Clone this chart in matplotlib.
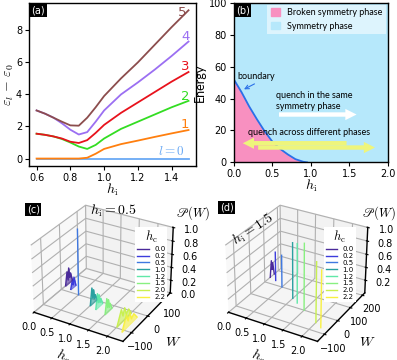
import numpy as np
import matplotlib.pyplot as plt
from matplotlib.patches import Patch
from matplotlib.collections import PolyCollection

plt.rcParams['font.family'] = 'DejaVu Sans'
plt.rcParams['mathtext.fontset'] = 'cm'
plt.rcParams['font.size'] = 7
plt.rcParams['axes.linewidth'] = 1

# ---- (a) energy gaps vs h_i
h_a = [0.6, 0.65, 0.7, 0.75, 0.8, 0.85, 0.9, 0.95, 1.0, 1.1, 1.2, 1.3, 1.4, 1.5]
gap0 = [0, 0, 0, 0, 0, 0, 0, 0, 0, 0, 0, 0, 0, 0]
gap1 = [0, 0, 0, 0, 0, 0, 0.05, 0.3, 0.6, 0.9, 1.12, 1.35, 1.57, 1.78]
gap2 = [1.55, 1.48, 1.38, 1.22, 1.0, 0.75, 0.6, 0.85, 1.25, 1.85, 2.3, 2.75, 3.2, 3.6]
gap3 = [1.55, 1.48, 1.38, 1.25, 1.05, 0.97, 1.15, 1.6, 2.1, 2.85, 3.5, 4.15, 4.8, 5.4]
gap4 = [3.0, 2.8, 2.55, 2.2, 1.8, 1.5, 1.65, 2.3, 3.0, 4.0, 4.75, 5.55, 6.4, 7.3]
gap5 = [3.0, 2.8, 2.55, 2.3, 2.07, 2.05, 2.55, 3.2, 3.9, 5.0, 6.0, 7.1, 8.2, 9.25]
gap_labels = ['$l=0$', '1', '2', '3', '4', '5']

# ---- (b) phase boundary
h_b = [0.0, 0.1, 0.2, 0.3, 0.4, 0.5, 0.6, 0.7, 0.8, 0.9, 0.95]
E_b = [52, 44, 35, 27, 19.5, 13, 8.5, 5, 2, 0.4, 0]

# ---- (c),(d) work distributions
hc_vals = [0.0, 0.2, 0.5, 1.0, 1.2, 1.5, 2.0, 2.2]
hc_labels = ['0.0', '0.2', '0.5', '1.0', '1.2', '1.5', '2.0', '2.2']
c_W = [[25, 35, 40, 45, 50, 55, 65],
       [15, 25, 30, 35, 45],
       [0, 0],
       [-35, -25, -20, -15, -10, -5, 5],
       [-45, -35, -30, -25, -20, -15, -5],
       [-55, -45, -40, -35, -30, -25, -15],
       [-95, -80, -70, -60, -50, -40, -25, -10],
       [-110, -95, -85, -75, -65, -55, -40, -20]]
c_P = [[0, 0.2, 0.06, 0.24, 0.08, 0.14, 0],
       [0, 0.12, 0.04, 0.15, 0],
       [0, 1.0],
       [0, 0.25, 0.08, 0.2, 0.05, 0.1, 0],
       [0, 0.22, 0.07, 0.18, 0.05, 0.1, 0],
       [0, 0.22, 0.07, 0.18, 0.05, 0.1, 0],
       [0, 0.12, 0.2, 0.08, 0.18, 0.06, 0.1, 0],
       [0, 0.12, 0.2, 0.08, 0.18, 0.06, 0.1, 0]]
d_W = [[140, 150, 155, 160, 170],
       [130, 130],
       [100, 100],
       [50, 50],
       [30, 30],
       [0, 0],
       [-50, -50],
       [-70, -70]]
d_P = [[0, 0.25, 0.1, 0.2, 0],
       [0, 0.45],
       [0, 0.5],
       [0, 0.85],
       [0, 0.9],
       [0, 1.0],
       [0, 0.9],
       [0, 0.85]]

gap_colors = ['#6aa9f4', '#ff7f0e', '#33dd22', '#e8121c', '#9b6ff2', '#8c4d4d']
hc_colors = ['#4a2a9a', '#3c3cdc', '#3f78e0', '#2aa0a0', '#60e8a8', '#88f080', '#c8f050', '#f8f040']
pink = '#f890c0'
sky = '#b6e8fb'

fig = plt.figure(figsize=(3.97, 3.60), dpi=100)


def panel_tag(ax, s, x, y, **kw):
    ax.text(x, y, s, color='white', fontsize=7, va='top', ha='left',
            bbox=dict(boxstyle='square,pad=0.15', fc='black', ec='none'), **kw)


def dist3d(ax, Ws, Ps, ylim, yticks, zticks, fill):
    ax.set_facecolor('none')
    for hc, W, P, c, lab in zip(hc_vals, Ws, Ps, hc_colors, hc_labels):
        ax.plot([hc] * len(W), W, P, color=c, lw=1.0, label=lab)
        if fill and len(W) > 2:
            poly = PolyCollection([list(zip(W, P))], facecolors=c, edgecolors=c, alpha=0.6, lw=0.5)
            ax.add_collection3d(poly, zs=hc, zdir='x')
    ax.set_xlim(0, 2.4)
    ax.set_ylim(*ylim)
    ax.set_zlim(0, 1)
    ax.set_xticks([0.0, 0.5, 1.0, 1.5, 2.0])
    ax.set_yticks(yticks)
    ax.set_zticks(zticks)
    ax.tick_params(labelsize=7, pad=0)
    ax.tick_params(axis='x', pad=-3)
    ax.tick_params(axis='y', pad=-2)
    ax.set_xlabel(r'$h_\mathrm{c}$', fontsize=10, labelpad=-6)
    ax.set_ylabel(r'$W$', fontsize=10, labelpad=-4)
    ax.view_init(elev=30, azim=-60)
    return ax


# 3D panels first, so the 2D panels sit on top
ax = fig.add_axes([0.005, 0.024, 0.5, 0.44], projection='3d')
dist3d(ax, c_W, c_P, (-150, 150), [-100, 0, 100], [0.0, 0.2, 0.4, 0.6, 0.8, 1.0], True)
ax.legend(title=r'$h_\mathrm{c}$', fontsize=5, title_fontsize=9,
          loc='upper right', bbox_to_anchor=(0.94, 0.806), handlelength=1.6,
          labelspacing=0.12, borderpad=0.3, fancybox=False, edgecolor='none', framealpha=1)
ax.text2D(0.975, 0.87, r'$\mathscr{P}(W)$', transform=ax.transAxes, fontsize=9, va='center')
ax.text2D(0.43, 0.89, r'$h_\mathrm{i}=0.5$', transform=ax.transAxes, fontsize=10, va='center')
ax.text2D(0.03, 0.927, '(c)', transform=ax.transAxes, color='white', fontsize=7, va='top',
          bbox=dict(boxstyle='square,pad=0.15', fc='black', ec='none'))

ax = fig.add_axes([0.495, 0.024, 0.5, 0.44], projection='3d')
dist3d(ax, d_W, d_P, (-150, 220), [-100, 0, 100, 200], [0.2, 0.4, 0.6, 0.8, 1.0], False)
ax.legend(title=r'$h_\mathrm{c}$', fontsize=5, title_fontsize=9,
          loc='upper right', bbox_to_anchor=(0.90, 0.806), handlelength=1.6,
          labelspacing=0.12, borderpad=0.3, fancybox=False, edgecolor='none', framealpha=1)
ax.text2D(0.915, 0.87, r'$\mathscr{P}(W)$', transform=ax.transAxes, fontsize=9, va='center')
ax.text2D(0.23, 0.77, r'$h_\mathrm{i}=1.5$', transform=ax.transAxes, fontsize=10, rotation=33,
          ha='center', va='center')
ax.text2D(0.02, 0.94, '(d)', transform=ax.transAxes, color='white', fontsize=7, va='top',
          bbox=dict(boxstyle='square,pad=0.15', fc='black', ec='none'))

# (a)
ax = fig.add_axes([0.073, 0.539, 0.421, 0.453])
gaps = [gap0, gap1, gap2, gap3, gap4, gap5]
for g, c in zip(gaps, gap_colors):
    ax.plot(h_a, g, color=c, lw=1.3)
lab_pos = [(1.4, 0.45), (1.48, 2.1), (1.48, 3.85), (1.48, 5.75), (1.48, 7.6), (1.46, 9.1)]
for s, c, (x, y) in zip(gap_labels, gap_colors, lab_pos):
    ax.text(x, y, s, color=c, fontsize=9.5, ha='center', va='center')
ax.set_xticks([0.6, 0.8, 1.0, 1.2, 1.4])
ax.set_yticks([0, 2, 4, 6, 8])
ax.set_xlabel(r'$h_\mathrm{i}$', fontsize=10, labelpad=-1)
ax.set_ylabel(r'$\varepsilon_l\,-\,\varepsilon_0$', fontsize=10, labelpad=0)
ax.tick_params(labelsize=7, length=3, pad=2)
panel_tag(ax, '(a)', 0.015, 0.985, transform=ax.transAxes)

# (b)
ax = fig.add_axes([0.589, 0.549, 0.388, 0.443])
ax.set_xlim(0, 2)
ax.set_ylim(0, 100)
ax.fill_between([0, 2], 0, 100, color=sky, lw=0)
ax.fill_between(h_b, 0, E_b, color=pink, lw=0)
ax.plot(h_b, E_b, color='#2a70e8', lw=1.3)
ax.set_xticks([0.0, 0.5, 1.0, 1.5, 2.0])
ax.set_yticks([0, 20, 40, 60, 80, 100])
ax.tick_params(labelsize=7, length=3, pad=2)
ax.set_xlabel(r'$h_\mathrm{i}$', fontsize=10, labelpad=-1)
ax.set_ylabel('Energy', fontsize=9, family='Lato', labelpad=2)
leg = ax.legend(handles=[Patch(color=pink, label='Broken symmetry phase'),
                         Patch(color=sky, label='Symmetry phase')],
                loc='upper right', frameon=True, fancybox=False,
                framealpha=0.55, edgecolor='none', handlelength=1.0, handleheight=0.9,
                borderaxespad=0.2, prop={'family': 'Lato', 'size': 6.5})
ax.text(0.05, 54, 'boundary', fontsize=6.5, family='Lato', va='center')
ax.annotate('', xy=(0.1, 45), xytext=(0.3, 50),
            arrowprops=dict(arrowstyle='->', color='#2a70e8', lw=0.8))
ax.text(0.55, 38.5, 'quench in the same\nsymmetry phase', fontsize=6.5, family='Lato',
        va='center', linespacing=1.3)
ax.annotate('', xy=(1.63, 30), xytext=(0.55, 30),
            arrowprops=dict(arrowstyle='simple,head_width=0.9,head_length=0.9,tail_width=0.35',
                            color='white', lw=0, mutation_scale=9))
ax.text(0.18, 18.5, 'quench across different phases', fontsize=6.5, family='Lato', va='center')
ax.annotate('', xy=(0.08, 12), xytext=(1.5, 12),
            arrowprops=dict(arrowstyle='simple,head_width=0.9,head_length=0.9,tail_width=0.35',
                            color='#eef57c', lw=0, mutation_scale=9))
ax.annotate('', xy=(1.87, 9.3), xytext=(0.28, 9.3),
            arrowprops=dict(arrowstyle='simple,head_width=0.9,head_length=0.9,tail_width=0.35',
                            color='#eef57c', lw=0, mutation_scale=9))
panel_tag(ax, '(b)', 0.015, 0.985, transform=ax.transAxes)

fig.savefig('out.png', dpi=100)
